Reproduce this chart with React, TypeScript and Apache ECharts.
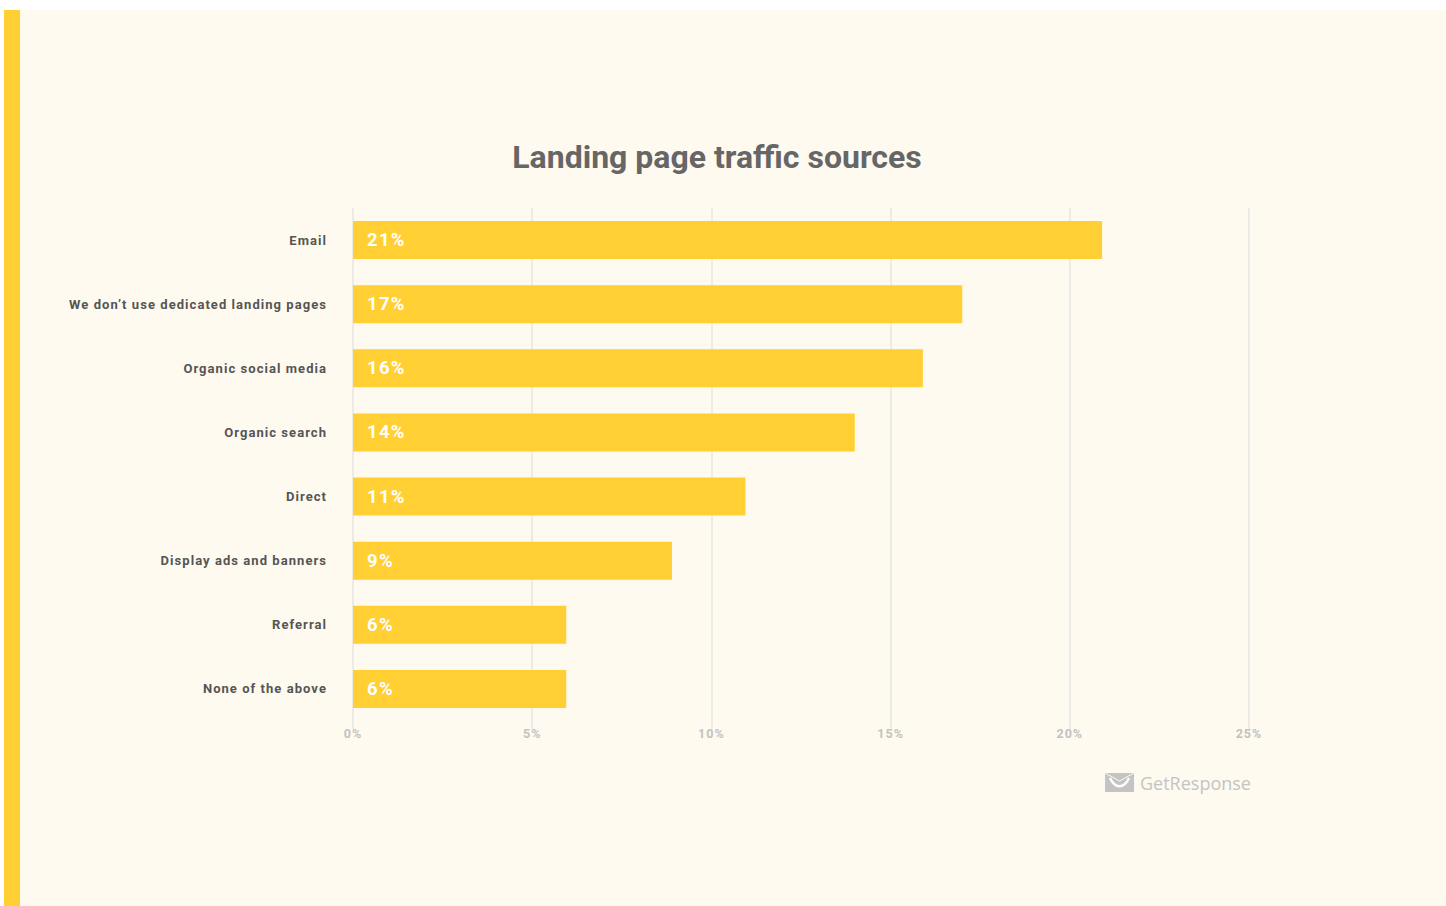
import React, { useEffect, useRef } from "react";
import * as echarts from "echarts";

const categories = [
  "Email",
  "We don’t use dedicated landing pages",
  "Organic social media",
  "Organic search",
  "Direct",
  "Display ads and banners",
  "Referral",
  "None of the above",
];
const values = [20.9, 17, 15.9, 14, 10.95, 8.9, 5.95, 5.95];
const barLabels = ["21%", "17%", "16%", "14%", "11%", "9%", "6%", "6%"];
const axisTicks = [0, 5, 10, 15, 20, 25];
const title = "Landing page traffic sources";

export default function App() {
  const ref = useRef<HTMLDivElement>(null);
  useEffect(() => {
    if (!ref.current) return;
    const el = ref.current;
    const chart = echarts.init(el, null, { renderer: "svg" });
    const yCats = [...categories].reverse();
    const yVals = [...values].reverse();
    const yLabels = [...barLabels].reverse();
    chart.setOption({
      animation: false,
      backgroundColor: "#ffffff",
      title: {
        text: title,
        left: 712,
        top: 136,
        textAlign: "center",
        textStyle: {
          fontFamily: "Roboto",
          fontWeight: "bold",
          fontSize: 32,
          color: "#666666",
        },
      },
      grid: { left: 353, right: 197, top: 208, bottom: 185, containLabel: false },
      xAxis: {
        type: "value",
        min: axisTicks[0],
        max: axisTicks[axisTicks.length - 1],
        interval: 5,
        axisLine: { show: false },
        axisTick: {
          show: true,
          length: 8,
          lineStyle: { color: "#e6e6e6", width: 1.5 },
        },
        splitLine: { show: true, lineStyle: { color: "#e6e6e6", width: 1.5 } },
        axisLabel: {
          formatter: (v: number) => v + "%",
          fontFamily: "Roboto",
          fontWeight: "bold",
          fontSize: 12.5,
          color: "#c2c2c2",
          margin: 6,
        },
      },
      yAxis: {
        type: "category",
        data: yCats,
        axisLine: { show: false },
        axisTick: { show: false },
        axisLabel: {
          fontFamily: "Roboto",
          fontWeight: "bold",
          fontSize: 13,
          color: "#555555",
          margin: 26,
        },
      },
      series: [
        {
          type: "bar",
          data: yVals,
          barWidth: 38,
          itemStyle: { color: "#ffcf33" },
          emphasis: { disabled: true },
          label: {
            show: true,
            position: "insideLeft",
            distance: 14,
            formatter: (p: any) => yLabels[p.dataIndex],
            fontFamily: "Roboto",
            fontWeight: "bold",
            fontSize: 18.5,
            color: "#ffffff",
          },
        },
      ],
      graphic: [
        {
          type: "rect",
          z: -10,
          silent: true,
          shape: { x: 4, y: 10, width: 1442, height: 896 },
          style: { fill: "#fefaef" },
        },
        {
          type: "rect",
          z: -9,
          silent: true,
          shape: { x: 4, y: 10, width: 16, height: 896 },
          style: { fill: "#ffcf33" },
        },
        {
          type: "rect",
          silent: true,
          shape: { x: 1105, y: 773, width: 29, height: 19 },
          style: { fill: "#c4c4c4" },
        },
        {
          type: "polyline",
          silent: true,
          shape: { points: [[1105, 773], [1119.5, 781], [1134, 773]] },
          style: { stroke: "#fefaef", lineWidth: 1, fill: null },
        },
        {
          type: "bezierCurve",
          silent: true,
          shape: { x1: 1110, y1: 778, x2: 1129, y2: 778, cpx1: 1115, cpy1: 789, cpx2: 1124, cpy2: 789 },
          style: { stroke: "#ffffff", lineWidth: 2.5, fill: null },
        },
        {
          type: "text",
          silent: true,
          x: 1140,
          y: 783,
          style: {
            text: "GetResponse",
            fontFamily: "Open Sans",
            fontSize: 18,
            fill: "#c4c4c4",
            verticalAlign: "middle",
          },
        },
      ],
    });
    const applySpacing = () => {
      const texts = el.querySelectorAll("text");
      texts.forEach((t) => {
        const s = (t.textContent || "").trim();
        const fill = (t.getAttribute("fill") || "").toLowerCase();
        if (categories.includes(s)) {
          t.setAttribute("letter-spacing", "1.05");
        } else if (/^\d+%$/.test(s)) {
          if (fill === "#fff" || fill === "#ffffff" || fill.startsWith("rgb(255,255,255") || fill.startsWith("rgb(255, 255, 255")) {
            t.setAttribute("letter-spacing", "1.3");
          } else {
            t.setAttribute("letter-spacing", "1");
          }
        }
      });
    };
    applySpacing();
    chart.on("finished", applySpacing);
    const timer = setTimeout(applySpacing, 50);
    return () => {
      clearTimeout(timer);
      chart.dispose();
    };
  }, []);
  return (
    <div
      ref={ref}
      style={{ position: "absolute", left: 0, top: 0, width: 1446, height: 906 }}
    />
  );
}
